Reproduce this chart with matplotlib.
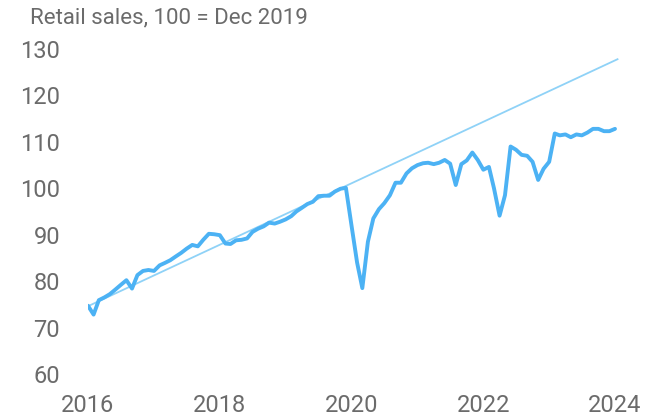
import matplotlib
matplotlib.use("Agg")
import matplotlib.pyplot as plt
import matplotlib.dates as mdates
import pandas as pd

# monthly retail sales index, Jan 2016 - Jan 2024 (100 = Dec 2019)
months = pd.date_range("2016-01-01", periods=97, freq="MS")
sales = [
    74.7, 72.8, 75.9, 76.5, 77.2, 78.2, 79.2, 80.2, 78.4, 81.3, 82.2, 82.4,
    82.2, 83.4, 83.9, 84.5, 85.3, 86.1, 87.0, 87.8, 87.5, 88.9, 90.2, 90.1,
    89.9, 88.1, 88.0, 88.8, 88.9, 89.2, 90.6, 91.3, 91.8, 92.6, 92.4, 92.8,
    93.3, 94.0, 95.0, 95.8, 96.6, 97.1, 98.3, 98.4, 98.4, 99.3, 99.9, 100.1,
    92.0, 84.0, 78.5, 88.5, 93.5, 95.5, 96.8, 98.5, 101.2, 101.2, 103.2, 104.3,
    105.0, 105.4, 105.5, 105.2, 105.5, 106.1, 105.3, 100.7, 105.2, 106.0, 107.7, 106.1,
    104.0, 104.6, 100.0, 94.1, 98.5, 109.0, 108.3, 107.2, 107.0, 105.7, 101.8, 104.2,
    105.7, 111.8, 111.4, 111.6, 111.0, 111.6, 111.4, 112.0, 112.8, 112.8, 112.3, 112.3,
    112.8,
]

# pre-pandemic trend line end points
trend_dates = [pd.Timestamp("2016-01-01"), pd.Timestamp("2024-01-15")]
trend_values = [74.6, 127.8]

yticks = [60, 70, 80, 90, 100, 110, 120, 130]
xtick_years = [2016, 2018, 2020, 2022, 2024]

plt.rcParams['font.family'] = ['Roboto', 'DejaVu Sans']
grey = '#6b6b6b'

fig = plt.figure(figsize=(6.56, 4.16), dpi=100)
W, H = 656, 416
left, right, top, bottom = 88, 622, 40, 386
ax = fig.add_axes([left / W, 1 - bottom / H, (right - left) / W, (bottom - top) / H])

ax.plot(trend_dates, trend_values, color='#8fd2f7', linewidth=1.3, zorder=2)
ax.plot(months, sales, color='#4cb2f4', linewidth=2.8, zorder=3,
        solid_joinstyle='round', solid_capstyle='round')

x0 = mdates.date2num(pd.Timestamp("2016-01-01"))
x8 = mdates.date2num(pd.Timestamp("2024-01-01"))
px = (x8 - x0) / (615 - 88)
ax.set_xlim(x0, x0 + (right - left) * px)
ypx = 70 / (374 - 49)
ax.set_ylim(60 - (bottom - 374) * ypx, 130 + (49 - top) * ypx)

ax.set_yticks(yticks)
ax.set_xticks([pd.Timestamp(f"{y}-01-01") for y in xtick_years])
ax.xaxis.set_major_formatter(mdates.DateFormatter('%Y'))
ax.tick_params(length=0, labelsize=17, labelcolor=grey)
ax.tick_params(axis='y', pad=20)
ax.tick_params(axis='x', pad=6)
for s in ax.spines.values():
    s.set_visible(False)

fig.text(30 / W, 1 - 18 / H, "Retail sales, 100 = Dec 2019", fontsize=16,
         color=grey, ha='left', va='center')

fig.savefig("out.png", dpi=100)
